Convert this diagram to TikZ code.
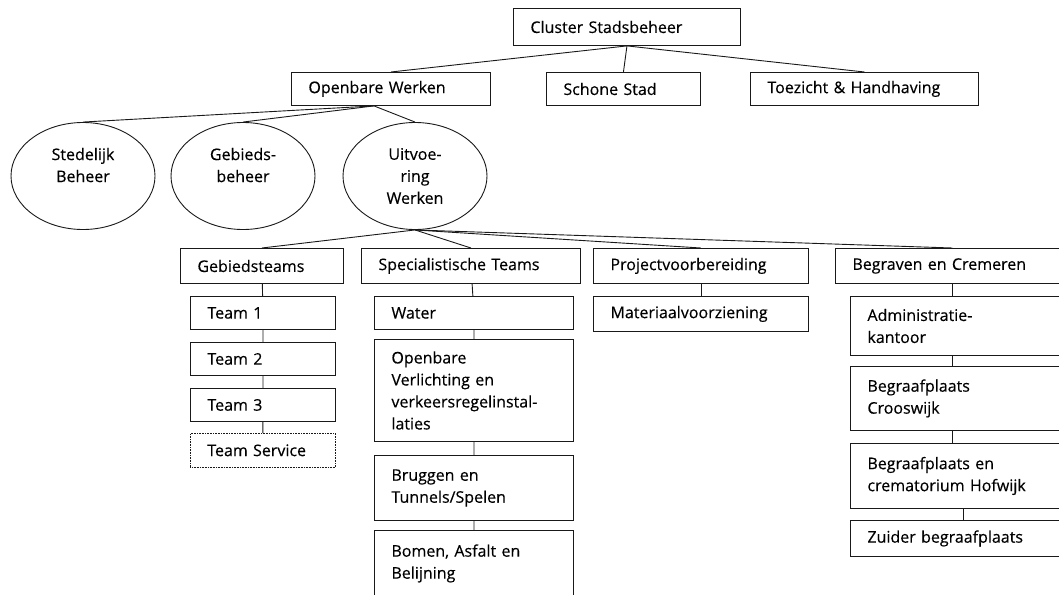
\documentclass[tikz,border=0pt]{standalone}
\usepackage{fontspec}
\setmainfont{Open Sans}[WordSpace=1.6,FakeBold=0.35]
\usetikzlibrary{shapes.geometric}

\begin{document}
\begin{tikzpicture}[x=1pt,y=-1pt,
  line width=0.9pt,
  every node/.style={font=\fontsize{16}{22}\selectfont,text=black},
  box/.style={draw=black!90,anchor=north west,align=left,inner xsep=17pt,inner ysep=4pt},
  oval/.style={draw=black!90,ellipse,align=center,minimum width=144pt,minimum height=107pt,inner sep=0pt},
  link/.style={draw,black!90}]
\useasboundingbox (0,0) rectangle (1059,594);
\clip (0,0) rectangle (1059,594);
% bovenste laag
\node[box,minimum width=227pt,minimum height=37pt,text width=193pt] (cluster) at (513,8) {Cluster Stadsbeheer};
\node[box,minimum width=199pt,minimum height=33pt,text width=165pt] (ow) at (291,72) {Openbare Werken};
\node[box,minimum width=154pt,minimum height=33pt,text width=120pt] (schoon) at (546,72) {Schone Stad};
\node[box,minimum width=228pt,minimum height=33pt,text width=194pt] (toezicht) at (750,72) {Toezicht \& Handhaving};
\draw[link] (cluster.south) -- (ow.north);
\draw[link] (cluster.south) -- (schoon.north);
\draw[link] (cluster.south) -- (toezicht.north);
% afdelingen
\node[oval] (stedelijk) at (83,176) {Stedelijk\\Beheer\\\mbox{}};
\node[oval] (gebied) at (243,176) {Gebieds-\\beheer\\\mbox{}};
\node[oval] (uitvoering) at (415,176) {Uitvoe-\\ring\\Werken};
\coordinate (owvoet) at ([xshift=-17pt]ow.south);
\foreach \n in {stedelijk,gebied,uitvoering}
  \draw[link] (owvoet) -- (\n.north);
% teams onder Uitvoering Werken
\node[box,minimum width=163pt,minimum height=35pt,text width=129pt] (gteams) at (180,248) {Gebiedsteams};
\node[box,minimum width=219pt,minimum height=35pt,text width=185pt] (steams) at (361,248) {Specialistische Teams};
\node[box,minimum width=215pt,minimum height=35pt,text width=181pt] (project) at (593,248) {Projectvoorbereiding};
\node[box,minimum width=234pt,minimum height=35pt,text width=200pt] (begraven) at (835,248) {Begraven en Cremeren};
\foreach \n in {gteams,steams,project,begraven}
  \draw[link] (uitvoering.south) -- (\n.north);
% Gebiedsteams
\node[box,minimum width=145pt,minimum height=33pt,text width=111pt] (team1) at (190,296) {Team 1};
\node[box,minimum width=145pt,minimum height=33pt,text width=111pt] (team2) at (190,342) {Team 2};
\node[box,minimum width=145pt,minimum height=33pt,text width=111pt] (team3) at (190,388) {Team 3};
\node[box,densely dotted,line width=0.6pt,minimum width=145pt,minimum height=34pt,text width=111pt] (tservice) at (190,433) {Team Service};
\draw[link] (gteams) -- (team1) -- (team2) -- (team3) -- (tservice);
% Specialistische Teams
\node[box,minimum width=199pt,minimum height=33pt,text width=165pt] (water) at (374,296) {Water};
\node[box,minimum width=199pt,minimum height=102pt,text width=165pt] (ovl) at (374,339) {Openbare\\Verlichting en\\verkeersregelinstal-\\laties};
\node[box,minimum width=199pt,minimum height=65pt,text width=165pt] (bruggen) at (374,455) {Bruggen en\\Tunnels/Spelen};
\node[box,minimum width=199pt,minimum height=66pt,text width=165pt] (bomen) at (374,530) {Bomen, Asfalt en\\Belijning};
\draw[link] (steams) -- (water) -- (ovl) -- (bruggen) -- (bomen);
% Projectvoorbereiding
\node[box,minimum width=215pt,minimum height=35pt,text width=181pt] (materiaal) at (593,296) {Materiaalvoorziening};
\draw[link] (project) -- (materiaal);
% Begraven en Cremeren
\node[box,minimum width=225pt,minimum height=59pt,text width=191pt] (admin) at (850,296) {Administratie-\\kantoor};
\node[box,minimum width=225pt,minimum height=64pt,text width=191pt] (crooswijk) at (850,366) {Begraafplaats\\Crooswijk};
\node[box,minimum width=225pt,minimum height=65pt,text width=191pt] (hofwijk) at (850,443) {Begraafplaats en\\crematorium Hofwijk};
\node[box,minimum width=225pt,minimum height=36pt,text width=191pt] (zuider) at (850,520) {Zuider begraafplaats};
\draw[link] (begraven.south) -- (begraven.south |- admin.north);
\draw[link] (admin.south -| begraven.south) -- (begraven.south |- crooswijk.north);
\draw[link] (crooswijk.south -| begraven.south) -- (begraven.south |- hofwijk.north);
\draw[link] (hofwijk.south -| zuider.north) -- (zuider.north);
\end{tikzpicture}
\end{document}
